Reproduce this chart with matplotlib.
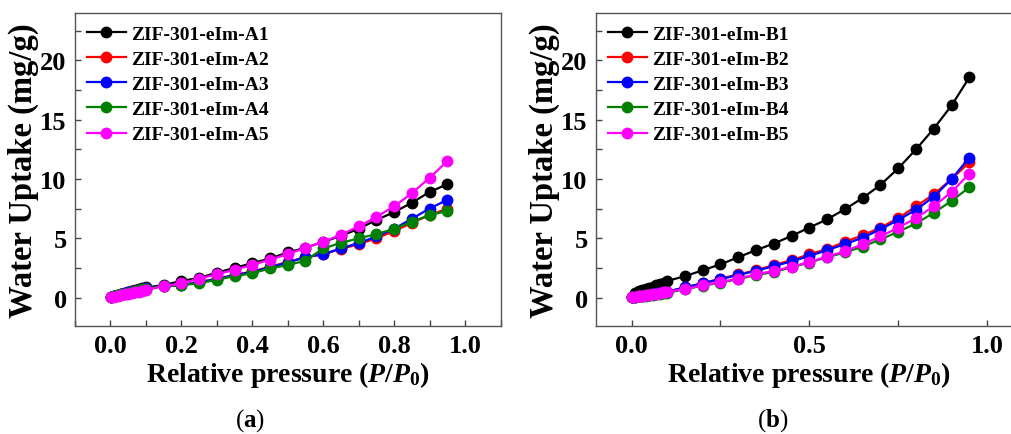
import matplotlib
matplotlib.use("Agg")
import matplotlib.pyplot as plt
from matplotlib.ticker import MultipleLocator

plt.rcParams['font.family'] = ['Liberation Serif', 'DejaVu Serif']
plt.rcParams['mathtext.fontset'] = 'custom'
plt.rcParams['mathtext.rm'] = 'Liberation Serif:bold'
plt.rcParams['mathtext.bf'] = 'Liberation Serif:bold'
plt.rcParams['mathtext.it'] = 'Liberation Serif:italic:bold'

# relative pressure points (shared by every sample)
p = [0.001, 0.01, 0.02, 0.03, 0.04, 0.05, 0.06, 0.07, 0.08, 0.09, 0.10,
     0.15, 0.20, 0.25, 0.30, 0.35, 0.40, 0.45, 0.50, 0.55, 0.60, 0.65,
     0.70, 0.75, 0.80, 0.85, 0.90, 0.95]

# panel (a)
A1 = [0.02, 0.15, 0.25, 0.33, 0.41, 0.48, 0.55, 0.62, 0.69, 0.77, 0.85,
      1.05, 1.4, 1.65, 2.1, 2.5, 2.9, 3.3, 3.8, 4.2, 4.7, 5.2, 5.8, 6.55, 7.2, 8.0, 8.9, 9.56]
A2 = [0.02, 0.13, 0.22, 0.30, 0.37, 0.44, 0.51, 0.58, 0.65, 0.72, 0.80,
      0.95, 1.05, 1.3, 1.6, 1.9, 2.2, 2.6, 3.0, 3.4, 3.65, 4.1, 4.5, 5.0, 5.6, 6.3, 6.95, 7.5]
A3 = [0.02, 0.14, 0.23, 0.31, 0.38, 0.45, 0.52, 0.59, 0.66, 0.73, 0.80,
      0.95, 1.05, 1.3, 1.55, 1.9, 2.15, 2.55, 2.95, 3.4, 3.65, 4.15, 4.6, 5.15, 5.8, 6.65, 7.5, 8.25]
A4 = [0.02, 0.12, 0.20, 0.27, 0.34, 0.41, 0.48, 0.55, 0.62, 0.69, 0.76,
      0.95, 1.05, 1.2, 1.5, 1.8, 2.05, 2.45, 2.75, 3.1, 4.15, 4.6, 5.0, 5.35, 5.8, 6.4, 6.95, 7.3]
A5 = [0.01, 0.08, 0.14, 0.20, 0.26, 0.32, 0.38, 0.44, 0.50, 0.57, 0.65,
      0.95, 1.2, 1.6, 1.95, 2.35, 2.75, 3.2, 3.65, 4.2, 4.7, 5.3, 6.0, 6.8, 7.7, 8.8, 10.1, 11.5]

# panel (b)
B1 = [0.03, 0.40, 0.52, 0.62, 0.72, 0.82, 0.92, 1.02, 1.12, 1.25, 1.4,
      1.8, 2.3, 2.8, 3.4, 4.0, 4.55, 5.2, 5.9, 6.6, 7.45, 8.4, 9.5, 10.9, 12.5, 14.25, 16.2, 18.57]
B2 = [0.01, 0.06, 0.10, 0.15, 0.19, 0.24, 0.29, 0.34, 0.39, 0.45, 0.5,
      0.85, 1.2, 1.6, 1.95, 2.3, 2.75, 3.15, 3.65, 4.1, 4.7, 5.25, 5.9, 6.7, 7.7, 8.7, 10.0, 11.4]
B3 = [0.01, 0.06, 0.10, 0.15, 0.20, 0.25, 0.30, 0.35, 0.40, 0.45, 0.5,
      0.85, 1.2, 1.55, 1.9, 2.25, 2.65, 3.05, 3.5, 4.0, 4.5, 5.05, 5.75, 6.55, 7.4, 8.5, 10.0, 11.8]
B4 = [0.01, 0.05, 0.09, 0.13, 0.17, 0.21, 0.25, 0.29, 0.33, 0.37, 0.4,
      0.7, 1.0, 1.25, 1.55, 1.9, 2.15, 2.55, 2.95, 3.4, 3.8, 4.3, 4.9, 5.55, 6.25, 7.15, 8.15, 9.3]
B5 = [0.01, 0.06, 0.10, 0.14, 0.19, 0.23, 0.28, 0.33, 0.38, 0.44, 0.5,
      0.7, 1.05, 1.3, 1.6, 1.95, 2.25, 2.6, 3.0, 3.45, 3.9, 4.5, 5.15, 5.9, 6.7, 7.7, 8.9, 10.45]

labels_a = ['ZIF-301-eIm-A1', 'ZIF-301-eIm-A2', 'ZIF-301-eIm-A3', 'ZIF-301-eIm-A4', 'ZIF-301-eIm-A5']
labels_b = ['ZIF-301-eIm-B1', 'ZIF-301-eIm-B2', 'ZIF-301-eIm-B3', 'ZIF-301-eIm-B4', 'ZIF-301-eIm-B5']
colors = ['black', '#ff0000', '#0000ff', '#008000', '#ff00ff']

W, H = 1011, 435
fig = plt.figure(figsize=(W / 100, H / 100), dpi=100)
ax1 = fig.add_axes([75 / W, 108 / H, 425.5 / W, 313 / H])
ax2 = fig.add_axes([596 / W, 108 / H, 426.7 / W, 313 / H])


def setup(ax, series, labels, xmajor, xminor):
    for y, lab, c in zip(series, labels, colors):
        ax.plot(p, y, '-o', color=c, lw=1.6, ms=7.5, label=lab)
    ax.set_xlim(-0.1, 1.1)
    ax.set_ylim(-2.4, 24)
    ax.xaxis.set_major_locator(MultipleLocator(xmajor))
    ax.xaxis.set_minor_locator(MultipleLocator(xminor))
    ax.yaxis.set_major_locator(MultipleLocator(5))
    ax.yaxis.set_minor_locator(MultipleLocator(2.5))
    ax.tick_params(which='both', direction='in', length=4, width=1, color='#444444',
                   top=False, right=False, labelsize=19, pad=6)
    for lab in ax.get_xticklabels() + ax.get_yticklabels():
        lab.set_fontweight('bold')
    for s in ax.spines.values():
        s.set_color('#555555')
        s.set_linewidth(1.0)
    ax.set_ylabel('Water Uptake (mg/g)', fontsize=23.5, fontweight='bold', labelpad=1)
    ax.set_xlabel(r'Relative pressure ($\mathit{P/P_0}$)', fontsize=20,
                  fontweight='bold', labelpad=1)
    ax.legend(loc='upper left', bbox_to_anchor=(12 / 425, 1 - 12 / 313), borderaxespad=0,
              borderpad=0, frameon=False, handlelength=2.0, handletextpad=0.25,
              labelspacing=0.39, prop={'family': 'Liberation Serif', 'weight': 'bold', 'size': 14})


setup(ax1, [A1, A2, A3, A4, A5], labels_a, 0.2, 0.1)
setup(ax2, [B1, B2, B3, B4, B5], labels_b, 0.5, 0.25)

fig.text(250 / W, 1 - 421 / H, '(' + r'$\mathbf{a}$' + ')', ha='center', va='center', fontsize=18)
fig.text(773 / W, 1 - 421 / H, '(' + r'$\mathbf{b}$' + ')', ha='center', va='center', fontsize=18)

fig.savefig('out.png', dpi=100)
